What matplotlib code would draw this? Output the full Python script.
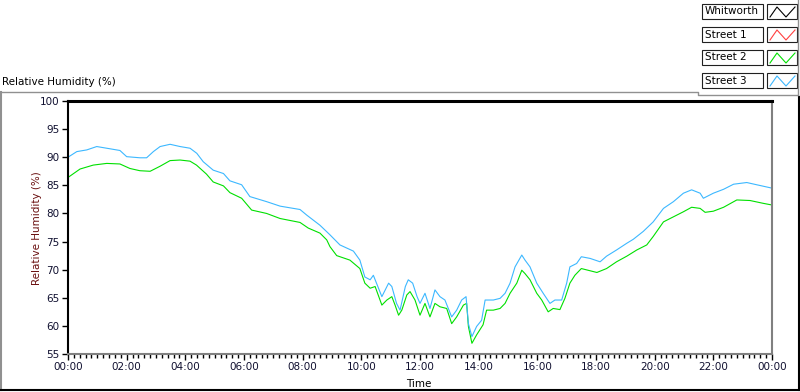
import matplotlib
matplotlib.use("Agg")
import matplotlib.pyplot as plt
from matplotlib.lines import Line2D
from matplotlib.patches import Rectangle
from matplotlib.ticker import MultipleLocator

# hours since midnight and relative humidity (%)
street2_t = [0.0, 0.41, 0.86, 1.32, 1.77, 2.11, 2.45, 2.80, 3.14, 3.48, 3.82, 4.16, 4.38,
             4.72, 4.95, 5.30, 5.52, 5.92, 6.26, 6.77, 7.23, 7.91, 8.19, 8.59, 8.82, 8.93,
             9.16, 9.61, 9.95, 10.12, 10.30, 10.47, 10.70, 10.87, 11.04, 11.15, 11.27, 11.38,
             11.55, 11.66, 11.83, 12.00, 12.17, 12.34, 12.51, 12.68, 12.91, 13.08, 13.25,
             13.48, 13.59, 13.65, 13.77, 13.93, 14.15, 14.27, 14.50, 14.73, 14.90, 15.07,
             15.30, 15.47, 15.58, 15.75, 15.98, 16.15, 16.37, 16.54, 16.77, 16.94, 17.11,
             17.28, 17.50, 18.03, 18.36, 18.70, 19.05, 19.39, 19.73, 19.95, 20.30, 20.64,
             20.98, 21.26, 21.55, 21.72, 22.00, 22.35, 22.80, 23.25, 23.70, 24.0]
street2_v = [86.4, 87.9, 88.6, 88.9, 88.8, 88.0, 87.6, 87.5, 88.4, 89.4, 89.5, 89.3, 88.6,
             87.0, 85.6, 84.9, 83.7, 82.7, 80.6, 80.0, 79.1, 78.4, 77.4, 76.5, 75.3, 74.1,
             72.5, 71.7, 70.2, 67.6, 66.7, 67.0, 63.7, 64.6, 65.2, 63.7, 61.9, 62.8,
             65.5, 66.1, 64.6, 61.9, 64.0, 61.6, 64.0, 63.4, 63.1, 60.4, 61.6,
             63.7, 64.0, 59.9, 56.9, 58.4, 60.2, 62.8, 62.8, 63.1, 64.0, 65.8,
             67.6, 69.9, 69.3, 68.2, 65.8, 64.6, 62.5, 63.1, 62.9, 64.9, 67.6,
             69.0, 70.2, 69.5, 70.2, 71.4, 72.4, 73.5, 74.4, 75.9, 78.5, 79.4,
             80.3, 81.1, 80.9, 80.2, 80.4, 81.1, 82.4, 82.3, 81.8, 81.5]

street3_t = [0.0, 0.30, 0.64, 0.98, 1.32, 1.77, 2.0, 2.45, 2.68, 2.91, 3.14, 3.48, 3.82,
             4.16, 4.39, 4.61, 4.95, 5.30, 5.52, 5.92, 6.20, 6.77, 7.23, 7.91, 8.14, 8.59,
             8.93, 9.27, 9.73, 9.95, 10.12, 10.30, 10.41, 10.70, 10.93, 11.04, 11.20, 11.32,
             11.50, 11.60, 11.75, 11.90, 12.0, 12.17, 12.34, 12.51, 12.68, 12.85, 13.08,
             13.25, 13.42, 13.57, 13.65, 13.77, 13.93, 14.10, 14.22, 14.50, 14.73, 14.90,
             15.07, 15.24, 15.47, 15.58, 15.75, 15.98, 16.20, 16.43, 16.60, 16.83, 17.0,
             17.11, 17.34, 17.50, 17.80, 18.14, 18.36, 18.70, 19.05, 19.27, 19.61, 19.95,
             20.30, 20.64, 20.98, 21.26, 21.55, 21.66, 22.0, 22.35, 22.69, 23.14, 23.48, 24.0]
street3_v = [90.0, 91.0, 91.3, 91.9, 91.6, 91.2, 90.1, 89.9, 89.9, 91.0, 91.9, 92.3, 91.9,
             91.6, 90.7, 89.2, 87.7, 87.1, 85.8, 85.1, 83.0, 82.1, 81.3, 80.7, 79.7, 77.9,
             76.2, 74.4, 73.3, 71.7, 68.7, 68.2, 69.0, 65.2, 67.6, 67.0, 64.0, 62.8,
             67.0, 68.2, 67.6, 65.2, 64.0, 65.8, 63.1, 66.4, 65.2, 64.6, 61.6,
             62.8, 64.6, 65.2, 60.4, 58.1, 59.9, 61.0, 64.6, 64.6, 64.9, 65.8,
             67.6, 70.5, 72.6, 71.7, 70.5, 67.6, 65.8, 64.0, 64.6, 64.6, 67.6,
             70.5, 71.1, 72.3, 72.0, 71.4, 72.4, 73.5, 74.7, 75.4, 76.8, 78.5,
             80.9, 82.1, 83.6, 84.2, 83.6, 82.7, 83.6, 84.3, 85.2, 85.5, 85.1, 84.5]

legend_names = ["Whitworth", "Street 1", "Street 2", "Street 3"]
legend_colors = ["#000000", "#ff4040", "#00e000", "#3cb8ff"]

W, H = 800, 392


def fx(x):
    return x / W


def fy(y):
    return 1 - y / H


fig = plt.figure(figsize=(8, 3.92), dpi=100)
ax = fig.add_axes([fx(68), fy(354), fx(772) - fx(68), fy(101) - fy(354)])

ax.plot(street2_t, street2_v, color=legend_colors[2], lw=0.8)
ax.plot(street3_t, street3_v, color=legend_colors[3], lw=0.8)

ax.set_xlim(0, 24)
ax.set_ylim(55, 100)
ax.xaxis.set_minor_locator(MultipleLocator(0.2))
ax.yaxis.set_major_locator(MultipleLocator(5))
xt = list(range(0, 25, 2))
ax.set_xticks(xt)
ax.set_xticklabels(["%02d:00" % (h % 24) for h in xt])
ax.tick_params(axis="both", which="major", length=4, width=1, color="black",
               labelsize=7.5, labelcolor="#101030", pad=2)
ax.tick_params(axis="x", which="minor", length=3, width=1, color="black")

ax.spines["top"].set_linewidth(2.2)
ax.spines["left"].set_linewidth(1.5)
ax.spines["right"].set_color("#808080")
ax.spines["bottom"].set_color("#808080")
ax.spines["right"].set_linewidth(1.5)
ax.spines["bottom"].set_linewidth(1.5)

fig.text(fx(37), fy(228), "Relative Humidity (%)", rotation=90, ha="center", va="center",
         fontsize=7.5, color="#6a1010")
fig.text(fx(419), fy(384), "Time", ha="center", va="center", fontsize=7.5, color="black")
fig.text(fx(2), fy(82), "Relative Humidity (%)", ha="left", va="center", fontsize=7.5,
         color="black")

# outer frame lines
def line(xs, ys, color, lw=1.0):
    fig.add_artist(Line2D([fx(x) for x in xs], [fy(y) for y in ys], color=color, lw=lw))

line([1, 698, 698, 798], [92, 92, 95, 95], "#909090")
line([1, 1], [92, 390], "#909090", 1.5)
line([0, 799], [390, 390], "black", 1.5)
line([799, 799], [97, 390], "black", 1.5)
line([798, 798], [0, 95], "#909090")

# legend
for i, (name, col) in enumerate(zip(legend_names, legend_colors)):
    top = 4 + 23 * i
    fig.add_artist(Rectangle((fx(702), fy(top + 15)), fx(61), 15 / H, fill=False,
                             edgecolor="#202020", lw=0.8))
    fig.add_artist(Rectangle((fx(767), fy(top + 15)), fx(30), 15 / H, fill=False,
                             edgecolor="#202020", lw=0.8))
    fig.text(fx(705), fy(top + 7.5), name, ha="left", va="center", fontsize=7.5, color="black")
    zx = [770, 777, 786, 795]
    zy = [top + 13, top + 3, top + 13, top + 3]
    line(zx, zy, col, 0.8)

fig.savefig("out.png", dpi=100)
